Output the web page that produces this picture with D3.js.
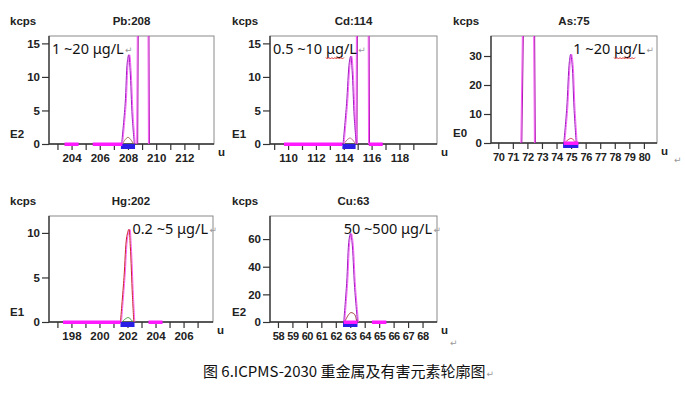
<!DOCTYPE html>
<html>
<head>
<meta charset="utf-8">
<script src="https://d3js.org/d3.v7.min.js"></script>
<style>
body { margin: 0; background: #fff; }
svg { display: block; }
.ax { font-family: "Liberation Sans", Arial, sans-serif; font-weight: bold; font-size: 11.5px; fill: #222; }
.dense .tick text { font-size: 11px; letter-spacing: -0.4px; }
.note { font-family: "Noto Sans", "Open Sans", sans-serif; font-size: 14.5px; fill: #111; }
.cap { font-family: "Noto Sans CJK SC", sans-serif; font-size: 15px; fill: #111; }
.ret { font-family: "DejaVu Sans", sans-serif; font-size: 9px; fill: #999; }
</style>
</head>
<body>
<svg id="vis" width="685" height="393"></svg>
<script>
// ---- data ----
var titles = ["Pb:208", "Cd:114", "As:75", "Hg:202", "Cu:63"];
var exponents = ["E2", "E1", "E0", "E1", "E2"];
var notes = ["1 ~20 μg/L", "0.5 ~10 μg/L", "1 ~20 μg/L", "0.2 ~5 μg/L", "50 ~500 μg/L"];
var caption = "图 6.ICPMS-2030 重金属及有害元素轮廓图";

var xDomains = [[202.4, 214.1], [108.7, 120.7], [69.5, 80.9], [196.4, 208.1], [57.45, 69.0]];
var yDomains = [[0, 16.1], [0, 16.1], [0, 36.9], [0, 11.9], [0, 76.7]];
var yTicks = [[0, 5, 10, 15], [0, 5, 10, 15], [0, 10, 20, 30], [0, 5, 10], [0, 20, 40, 60]];
var xLabels = [
  [204, 206, 208, 210, 212],
  [110, 112, 114, 116, 118],
  [70, 71, 72, 73, 74, 75, 76, 77, 78, 79, 80],
  [198, 200, 202, 204, 206],
  [58, 59, 60, 61, 62, 63, 64, 65, 66, 67, 68]
];
var xMinor = [
  [203, 204, 205, 206, 207, 208, 209, 210, 211, 212, 213],
  [109, 110, 111, 112, 113, 114, 115, 116, 117, 118, 119],
  [70, 71, 72, 73, 74, 75, 76, 77, 78, 79, 80],
  [197, 198, 199, 200, 201, 202, 203, 204, 205, 206, 207],
  [58, 59, 60, 61, 62, 63, 64, 65, 66, 67, 68]
];

// main isotope peaks (u, kcps)
var pbPeak = [[207.55, 0], [207.8, 6], [207.95, 12.2], [208.05, 13.3], [208.15, 11], [208.3, 4], [208.45, 0]];
var cdPeak = [[113.95, 0], [114.2, 6], [114.4, 12.2], [114.5, 13.1], [114.6, 11], [114.75, 4], [114.9, 0]];
var asPeak = [[74.5, 0], [74.7, 12], [74.88, 28], [74.97, 30.6], [75.07, 27], [75.2, 12], [75.35, 0]];
var hgPeak = [[201.5, 0], [201.75, 5], [201.95, 9.6], [202.1, 10.4], [202.2, 8.5], [202.35, 3], [202.45, 0]];
var cuPeak = [[62.55, 0], [62.75, 28], [62.92, 60], [63.02, 64], [63.12, 58], [63.3, 25], [63.5, 0]];
var peaks = [pbPeak, cdPeak, asPeak, hgPeak, cuPeak];

// small humps under the peaks
var pbHump = [[207.6, 0], [208.0, 1.0], [208.4, 0]];
var cdHump = [[114.0, 0], [114.45, 0.9], [114.85, 0]];
var asHump = [[74.55, 0], [75.0, 1.6], [75.35, 0]];
var hgHump = [[201.6, 0], [202.05, 0.5], [202.4, 0]];
var cuHump = [[62.6, 0], [62.9, 5.5], [63.05, 6.8], [63.3, 5.5], [63.45, 0]];
var humps = [pbHump, cdHump, asHump, hgHump, cuHump];

// neighbouring off-scale peaks
var pbOff = [[208.62, 0], [208.72, 40], [209.38, 40], [209.45, 0]];
var cdOff = [[114.88, 0], [114.95, 40], [115.72, 40], [115.78, 0]];
var asOff = [[71.55, 0], [71.72, 60], [72.4, 60], [72.48, 0]];
var offPeaks = [pbOff, cdOff, asOff, [], []];

// scan ranges on the mass axis
var magentaBars = [
  [[203.5, 204.5], [205.5, 207.6]],
  [[109.7, 113.9], [115.8, 116.8]],
  [[74.5, 75.5]],
  [[197.4, 201.5], [203.5, 204.5]],
  [[62.55, 63.5], [64.5, 65.5]]
];
var blueBars = [
  [[207.5, 208.5]],
  [[113.9, 114.85]],
  [[74.45, 75.5]],
  [[201.5, 202.5]],
  [[62.5, 63.5]]
];

// ---- layout ----
var frames = [
  {l: 49, r: 214, t: 36, b: 144},
  {l: 270, r: 437, t: 36, b: 144},
  {l: 491, r: 657, t: 36, b: 143},
  {l: 49, r: 213, t: 216, b: 322},
  {l: 270, r: 437, t: 216, b: 322}
];
var kcpsX = [10, 232, 453, 10, 232];
var noteAnchor = ["start", "start", "end", "end", "end"];
var noteX = [52, 273, 645, 208, 432];
var peakColors = ["#a01cc0", "#a01cc0", "#a01cc0", "#cc1f2a", "#a01cc0"];
var humpColors = ["#a07050", "#c07090", "#d04060", "#40a040", "#a03a3a"];

var svg = d3.select("#vis");
var defs = svg.append("defs");

titles.forEach(function(title, i) {
  var f = frames[i];
  var x = d3.scaleLinear().domain(xDomains[i]).range([f.l, f.r]);
  var y = d3.scaleLinear().domain(yDomains[i]).range([f.b, f.t]);
  var g = svg.append("g");

  defs.append("clipPath").attr("id", "clip" + i)
    .append("rect").attr("x", f.l).attr("y", f.t).attr("width", f.r - f.l).attr("height", f.b - f.t + 6);

  // frame
  g.append("rect").attr("x", f.l).attr("y", f.t).attr("width", f.r - f.l).attr("height", f.b - f.t)
    .attr("fill", "#fff").attr("stroke", "#8a8a8a").attr("stroke-width", 1);

  var line = d3.line().x(function(d) { return x(d[0]); }).y(function(d) { return y(d[1]); })
    .curve(d3.curveCatmullRom.alpha(0.5));
  var straight = d3.line().x(function(d) { return x(d[0]); }).y(function(d) { return y(d[1]); });

  // axes
  var yAxis = d3.axisLeft(y).tickValues(yTicks[i]).tickSize(7).tickPadding(2);
  var ya = g.append("g").attr("transform", "translate(" + f.l + ",0)").call(yAxis);
  var xAxis = d3.axisBottom(x).tickValues(xMinor[i]).tickSize(6)
    .tickFormat(function(d) { return xLabels[i].indexOf(d) >= 0 ? d : ""; }).tickPadding(4);
  var xa = g.append("g").attr("transform", "translate(0," + f.b + ")").call(xAxis);
  [ya, xa].forEach(function(a) {
    a.select(".domain").attr("stroke", "#333").attr("stroke-width", 1.3);
    a.selectAll(".tick line").attr("stroke", "#333").attr("stroke-width", 1.2);
    a.selectAll("text").attr("class", "ax").attr("font-family", null).attr("font-size", null).attr("fill", null);
  });
  if (xLabels[i].length > 6) xa.classed("dense", true);
  ya.select(".domain").attr("d", "M0," + f.t + "V" + f.b);
  xa.select(".domain").attr("d", "M" + f.l + ",0H" + f.r);

  var plot = g.append("g").attr("clip-path", "url(#clip" + i + ")");

  if (offPeaks[i].length) {
    plot.append("path").attr("d", straight(offPeaks[i])).attr("fill", "none")
      .attr("stroke", "#ff55ff").attr("stroke-width", 1);
    plot.append("path").attr("d", straight(offPeaks[i])).attr("fill", "none")
      .attr("stroke", "#b01cb0").attr("stroke-width", 1).attr("transform", "translate(1,0)");
  }

  plot.append("path").attr("d", line(humps[i])).attr("fill", "none")
    .attr("stroke", humpColors[i]).attr("stroke-width", 1);

  plot.append("path").attr("d", line(peaks[i])).attr("fill", "none")
    .attr("stroke", "#ff60ff").attr("stroke-width", 1).attr("transform", "translate(1,0)");
  plot.append("path").attr("d", line(peaks[i])).attr("fill", "none")
    .attr("stroke", peakColors[i]).attr("stroke-width", 1);

  // scan range bars
  g.selectAll(".blue").data(blueBars[i]).enter().append("rect")
    .attr("x", function(d) { return x(d[0]); })
    .attr("width", function(d) { return x(d[1]) - x(d[0]); })
    .attr("y", f.b).attr("height", 5).attr("fill", "#2a1ee6");
  g.selectAll(".mag").data(magentaBars[i]).enter().append("rect")
    .attr("x", function(d) { return x(d[0]); })
    .attr("width", function(d) { return x(d[1]) - x(d[0]); })
    .attr("y", f.b - 1.5).attr("height", 3.5).attr("fill", "#ff1aff");

  // labels
  g.append("text").attr("class", "ax").attr("x", kcpsX[i]).attr("y", f.t - 11).text("kcps");
  g.append("text").attr("class", "ax").attr("x", (f.l + f.r) / 2).attr("y", f.t - 11)
    .attr("text-anchor", "middle").text(title);
  g.append("text").attr("class", "ax").attr("x", kcpsX[i]).attr("y", f.b - 6).text(exponents[i]);
  g.append("text").attr("class", "ax").attr("x", f.r + 4).attr("y", f.b + 12).text("u");

  var nt = g.append("text").attr("class", "note").attr("x", noteX[i]).attr("y", f.t + 18)
    .attr("text-anchor", noteAnchor[i]).text(notes[i]);
  var bb = nt.node().getBBox();
  g.append("text").attr("class", "ret").attr("x", bb.x + bb.width + 1).attr("y", f.t + 17).text("↵");

  // spell-check squiggle under "μg" on Cd and As notes
  if (i === 1 || i === 2) {
    var before = nt.node().getSubStringLength(0, notes[i].indexOf("μ"));
    var w = nt.node().getSubStringLength(notes[i].indexOf("μ"), 2);
    var x0 = bb.x + before, yy = f.t + 21.5, p = "M" + x0 + "," + yy;
    for (var k = 0; k < w; k += 3) p += " l1.5,1.5 l1.5,-1.5";
    g.append("path").attr("d", p).attr("fill", "none").attr("stroke", "#e02020").attr("stroke-width", 0.9);
  }
});

// stray paragraph marks
svg.append("text").attr("class", "ret").attr("x", 674).attr("y", 163).text("↵");
svg.append("text").attr("class", "ret").attr("x", 450).attr("y", 346).text("↵");

var cap = svg.append("text").attr("class", "cap").attr("x", 203).attr("y", 377).text(caption);
var cb = cap.node().getBBox();
svg.append("text").attr("class", "ret").attr("x", cb.x + cb.width + 1).attr("y", 377).text("↵");
</script>
</body>
</html>
